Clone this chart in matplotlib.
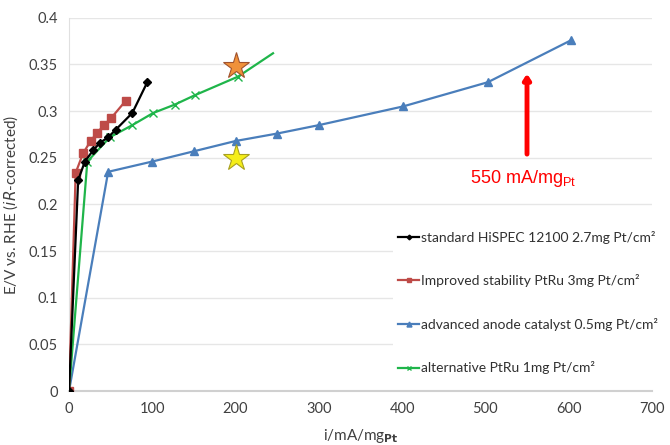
import matplotlib
matplotlib.use("Agg")
import matplotlib.pyplot as plt

plt.rcParams['font.family'] = ['Lato', 'DejaVu Sans']

# standard HiSPEC 12100
std_x = [0, 11, 19, 29, 37, 47, 56, 76, 94]
std_y = [0, 0.226, 0.246, 0.258, 0.266, 0.272, 0.280, 0.298, 0.331]

# improved stability PtRu
imp_x = [0, 8, 17, 26, 34, 42, 51, 68]
imp_y = [0, 0.234, 0.255, 0.268, 0.277, 0.285, 0.293, 0.311]

# advanced anode catalyst
adv_x = [0, 47, 100, 150, 200, 250, 300, 401, 503, 603]
adv_y = [0, 0.235, 0.246, 0.257, 0.268, 0.276, 0.285, 0.305, 0.331, 0.376]

# alternative PtRu
alt_x = [0, 22, 49, 76, 101, 127, 151, 203, 245]
alt_y = [0, 0.246, 0.272, 0.285, 0.298, 0.307, 0.317, 0.337, 0.362]

labels = ["standard HiSPEC 12100 2.7mg Pt/cm²",
          "Improved stability PtRu 3mg Pt/cm²",
          "advanced anode catalyst 0.5mg Pt/cm²",
          "alternative PtRu 1mg Pt/cm²"]

star_x = [200, 200]
star_y = [0.348, 0.250]

arrow_x = 550
arrow_y = [0.251, 0.343]

fig = plt.figure(figsize=(6.7, 4.45), dpi=100)
ax = fig.add_axes([0.103, 0.121, 0.870, 0.839])

ax.plot(adv_x, adv_y, color='#4a7ebb', lw=1.6, marker='^', ms=6, label=labels[2], zorder=3)
ax.plot(alt_x, alt_y, color='#1fb54a', lw=1.6, marker='x', ms=6, mew=1.0,
        markevery=list(range(len(alt_x) - 1)), label=labels[3], zorder=3)
ax.plot(imp_x, imp_y, color='#be4b48', lw=1.6, marker='s', ms=6, label=labels[1], zorder=3)
ax.plot(std_x, std_y, color='black', lw=1.6, marker='D', ms=4, label=labels[0], zorder=4)

# stars
ax.plot(star_x[0], star_y[0], marker='*', ms=20, color='#f0913a', mec='#a0522d', mew=0.8, zorder=5)
ax.plot(star_x[1], star_y[1], marker='*', ms=20, color='#f5ee1a', mec='#a8a020', mew=0.8, zorder=5)

# red arrow
ax.annotate('', xy=(arrow_x, arrow_y[1]), xytext=(arrow_x, arrow_y[0]),
            arrowprops=dict(arrowstyle='-|>,head_width=0.2,head_length=0.3', color='red', lw=3.5))
ax.text(arrow_x - 5, 0.228, r'550 mA/mg$_{\mathregular{Pt}}$', color='red', fontsize=13,
        ha='center', va='center', family=['Liberation Sans', 'DejaVu Sans'])

ax.set_xlim(0, 700)
ax.set_ylim(0, 0.4)
ax.set_xticks(range(0, 701, 100))
ax.set_yticks([0, 0.05, 0.1, 0.15, 0.2, 0.25, 0.3, 0.35, 0.4])
ax.set_yticklabels(['0', '0.05', '0.1', '0.15', '0.2', '0.25', '0.3', '0.35', '0.4'])
ax.tick_params(length=0, labelsize=10.5, colors='#404040', pad=8)
ax.grid(axis='y', color='#e6e6e6', lw=1)
ax.set_axisbelow(True)
for s in ['top', 'right']:
    ax.spines[s].set_visible(False)
ax.spines['left'].set_color('#e0e0e0')
ax.spines['bottom'].set_color('#d0d0d0')
ax.spines['bottom'].set_linewidth(1.5)

ax.set_ylabel(r'E/V vs. RHE ($\mathit{iR}$-corrected)', fontsize=11, color='#404040', labelpad=6)
ax.set_xlabel(r'i/mA/mg$_{\mathbf{Pt}}$', fontsize=11, color='#404040', labelpad=8)

h, l = ax.get_legend_handles_labels()
order = [3, 2, 0, 1]
leg = ax.legend([h[i] for i in order], [l[i] for i in order], loc='lower right',
                bbox_to_anchor=(1.02, 0.03), frameon=True, fontsize=10,
                labelspacing=2.2, handlelength=1.5, handletextpad=0.15,
                markerscale=0.6, borderaxespad=0)
leg.get_frame().set_edgecolor('none')
leg.get_frame().set_facecolor('white')
leg.get_frame().set_alpha(1)
for t in leg.get_texts():
    t.set_color('#303030')

fig.savefig('out.png', dpi=100)
